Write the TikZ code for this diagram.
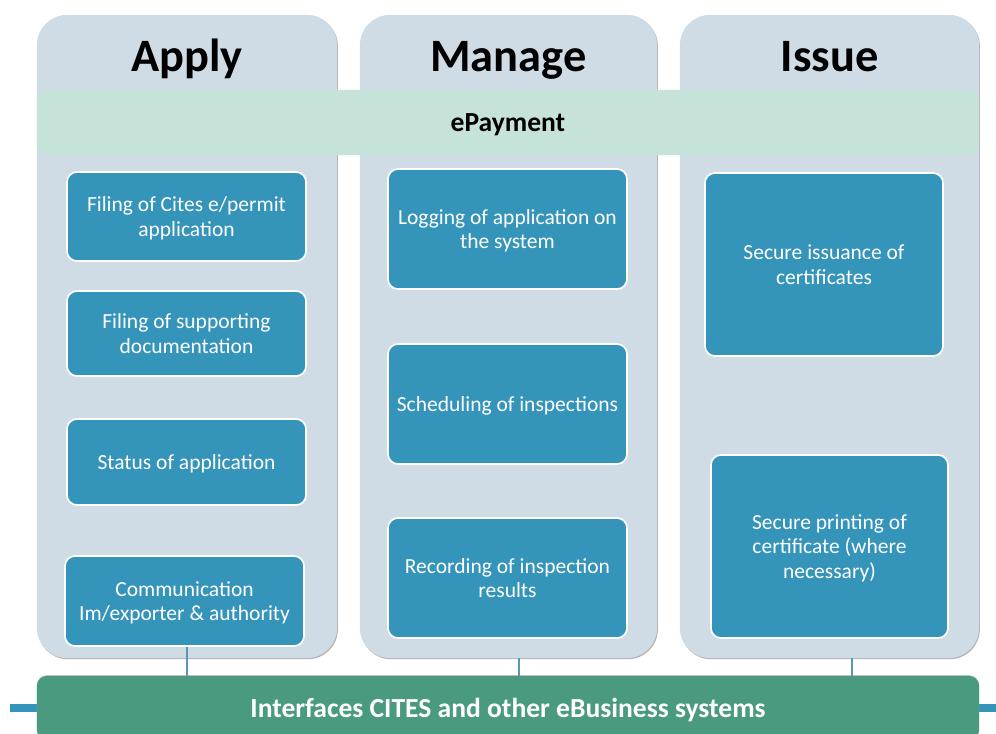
\documentclass[tikz,border=0pt]{standalone}
\usepackage{fontspec}
\setmainfont{Carlito}
\usetikzlibrary{shadows}

\definecolor{colfill}{HTML}{CFDCE6}
\definecolor{payband}{HTML}{C6E3DA}
\definecolor{taskblue}{HTML}{3494BA}
\definecolor{interbar}{HTML}{4A9A80}
\definecolor{linkblue}{HTML}{5A97B4}

\tikzset{
  column/.style={rectangle, rounded corners=0.75cm, fill=colfill, inner sep=0pt,
    general shadow={shadow xshift=0.6pt, shadow yshift=-0.8pt, fill=black!30}},
  heading/.style={anchor=base, font=\fontsize{33}{38}\selectfont\bfseries},
  task/.style={rectangle, rounded corners=0.25cm, fill=taskblue, draw=white, line width=1.2pt,
    text=white, align=center, minimum width=5.975cm, text depth=0pt, font=\fontsize{15.3}{17.3}\selectfont},
  link/.style={linkblue, line width=0.9pt}
}

\begin{document}
\begin{tikzpicture}[x=0.025cm, y=-0.025cm]

    \clip (0,0) rectangle (996,733);

%Columns
    \node[column, minimum width=7.5cm, minimum height=16.075cm] at (187, 336.5) (apply) {};
    \node[column, minimum width=7.425cm, minimum height=16.075cm] at (508.5, 336.5) (manage) {};
    \node[column, minimum width=7.475cm, minimum height=16.075cm] at (829.5, 336.5) (issue) {};

    \node[heading] at (187, 71.5) (t1) {Apply};
    \node[heading] at (508.5, 71.5) (t2) {Manage};
    \node[heading] at (829.5, 71.5) (t3) {Issue};

%ePayment band
    \node[rectangle, rounded corners=0.2cm, fill=payband, minimum width=23.55cm, minimum height=1.625cm,
      text depth=0pt, font=\fontsize{19.6}{22}\selectfont\bfseries] at (508, 122.5) (pay) {ePayment};

%Apply tasks
    \node[task, minimum height=2.225cm] at (186.5, 216.5) (a1) {Filing of Cites e/permit\\application};
    \node[task, minimum height=2.125cm] at (186.5, 333.5) (a2) {Filing of supporting\\documentation};
    \node[task, minimum height=2.15cm] at (186.5, 462) (a3) {Status of application};
    \node[task, minimum height=2.25cm] at (184.5, 601) (a4) {Communication\\Im/exporter \& authority};

%Manage tasks
    \node[task, minimum height=3cm] at (507.5, 229) (m1) {Logging of application on\\the system};
    \node[task, minimum height=3cm] at (507.5, 404) (m2) {Scheduling of inspections};
    \node[task, minimum height=3cm] at (507.5, 578) (m3) {Recording of inspection\\results};

%Issue tasks
    \node[task, minimum width=5.95cm, minimum height=4.575cm] at (824, 264.5) (i1) {Secure issuance of\\certificates};
    \node[task, minimum width=5.925cm, minimum height=4.575cm] at (829.5, 546.5) (i2) {Secure printing of\\certificate (where\\necessary)};

%Interface bar
    \coordinate (lstub) at (10, 708);
    \coordinate (rstub) at (1000, 708);
    \draw [taskblue, line width=0.2cm] (lstub) -- (508, 708) -- (rstub);

    \node[rectangle, rounded corners=0.25cm, fill=interbar, text=white, minimum width=23.55cm, minimum height=1.6cm,
      text depth=0pt, font=\fontsize{19.6}{22}\selectfont\bfseries,
      general shadow={shadow xshift=0pt, shadow yshift=0.6pt, fill=black!25}] at (508, 708) (bar) {Interfaces CITES and other eBusiness systems};

    \draw [link] ([xshift=0.06cm]a4.south) -- ([xshift=0.06cm]a4.south |- bar.north);
    \draw [link] ([xshift=0.26cm]manage.south) -- ([xshift=0.26cm]manage.south |- bar.north);
    \draw [link] ([xshift=0.56cm]issue.south) -- ([xshift=0.56cm]issue.south |- bar.north);

\end{tikzpicture}
\end{document}
